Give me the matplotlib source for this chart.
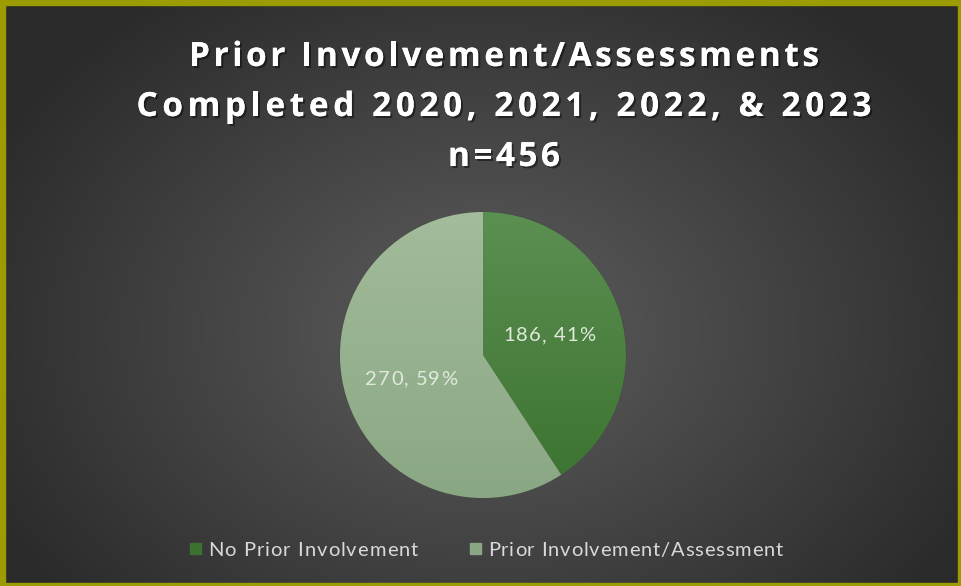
import numpy as np
import matplotlib
matplotlib.use("Agg")
import matplotlib.pyplot as plt
import matplotlib.patheffects as pe
from matplotlib.colors import LinearSegmentedColormap
from matplotlib.patches import Rectangle
from matplotlib.font_manager import FontProperties, findfont, get_font

# data
labels = ["No Prior Involvement", "Prior Involvement/Assessment"]
counts = [186, 270]
title_lines = ["Prior Involvement/Assessments",
               "Completed 2020, 2021, 2022, & 2023",
               "n=456"]
title_widths = [630, 735, 112]   # spread of each title line in px
legend_widths = [210, 295]

colors_top = ["#5c8f52", "#a3bc9b"]
colors_bot = ["#3b722f", "#8aa783"]

W, H = 961, 586
DPI = 100
fig = plt.figure(figsize=(W / DPI, H / DPI), dpi=DPI)

# background radial gradient (axes in pixel coords, y down)
bg = fig.add_axes([0, 0, 1, 1])
yy, xx = np.mgrid[0:H, 0:W]
d = np.sqrt(((xx - 483) / 560.0) ** 2 + ((yy - 330) / 420.0) ** 2)
d = np.clip(d, 0, 1)
bgmap = LinearSegmentedColormap.from_list("bg", ["#5e5e5e", "#2a2a2a"])
bg.imshow(d, cmap=bgmap, extent=[0, W, H, 0], aspect="auto", vmin=0, vmax=1)
bg.set_xlim(0, W)
bg.set_ylim(H, 0)
bg.axis("off")
# olive border
bcol = "#9c9c00"
bg.add_patch(Rectangle((0, 0), W, 5, color=bcol, zorder=10))
bg.add_patch(Rectangle((0, 0), 5, H, color=bcol, zorder=10))
bg.add_patch(Rectangle((W - 3, 0), 3, H, color=bcol, zorder=10))
bg.add_patch(Rectangle((0, H - 3), W, 3, color=bcol, zorder=10))


def tracked(x, y, s, size, family, weight, width, color, ha="center", **kw):
    # draw text char by char, spread out to a given width (pixel coords)
    prop = FontProperties(family=family, weight=weight, size=size)
    font = get_font(findfont(prop))
    font.set_size(size, DPI)
    adv = [font.load_char(ord(c)).linearHoriAdvance / 65536.0 for c in s]
    spacing = (width - sum(adv)) / (len(s) - 1)
    x0 = x - width / 2 if ha == "center" else x
    for c, a in zip(s, adv):
        if c != " ":
            fig.text(x0, y, c, fontproperties=prop, color=color, ha="left",
                     va="baseline", transform=bg.transData, **kw)
        x0 += a + spacing


# title
shadow = [pe.withSimplePatchShadow(offset=(1.5, -1.5), shadow_rgbFace="black", alpha=0.45),
          pe.Normal()]
for i, (line, tw) in enumerate(zip(title_lines, title_widths)):
    tracked(504, 66 + i * 50, line, 24, "Open Sans", "bold", tw, "white",
            path_effects=shadow)

# pie
cx, cy, r = 483, 355, 143
ax = fig.add_axes([(cx - r) / W, (H - cy - r) / H, 2 * r / W, 2 * r / H])
total = sum(counts)
wedges, texts, autotexts = ax.pie(
    counts, colors=colors_bot, startangle=90, counterclock=False,
    autopct=lambda p: f"{round(p * total / 100)}, {p:.0f}%", pctdistance=0.53,
    wedgeprops=dict(linewidth=0.8, edgecolor="#4a4a4a"))
ax.set_xlim(-1, 1)
ax.set_ylim(-1, 1)
ax.set_aspect("equal")

# vertical gradient fill inside each wedge
grad = np.linspace(0, 1, 256).reshape(-1, 1)
for w, ct, cb in zip(wedges, colors_top, colors_bot):
    cmap = LinearSegmentedColormap.from_list("g", [cb, ct])
    im = ax.imshow(grad, cmap=cmap, extent=[-1, 1, -1, 1], origin="lower",
                   aspect="auto", zorder=w.get_zorder() + 0.1)
    im.set_clip_path(w)
ax.axis("off")

# slice labels, redrawn with letter spacing
for t, dx in zip(autotexts, [-6, 1]):
    px, py = t.get_position()
    s = t.get_text()
    t.set_visible(False)
    tracked(cx + px * r + dx, cy - py * r + 8, s, 14.5, "Lato", "normal", 92, "#e2eadd")

# legend
for x0, lab, c, lw in zip([190, 470], labels, colors_bot, legend_widths):
    bg.add_patch(Rectangle((x0, 543), 11, 11, color=c))
    tracked(x0 + 18, 556, lab, 14.5, "Lato", "normal", lw, "#d9d9d9", ha="left")

fig.savefig("out.png", dpi=DPI)
